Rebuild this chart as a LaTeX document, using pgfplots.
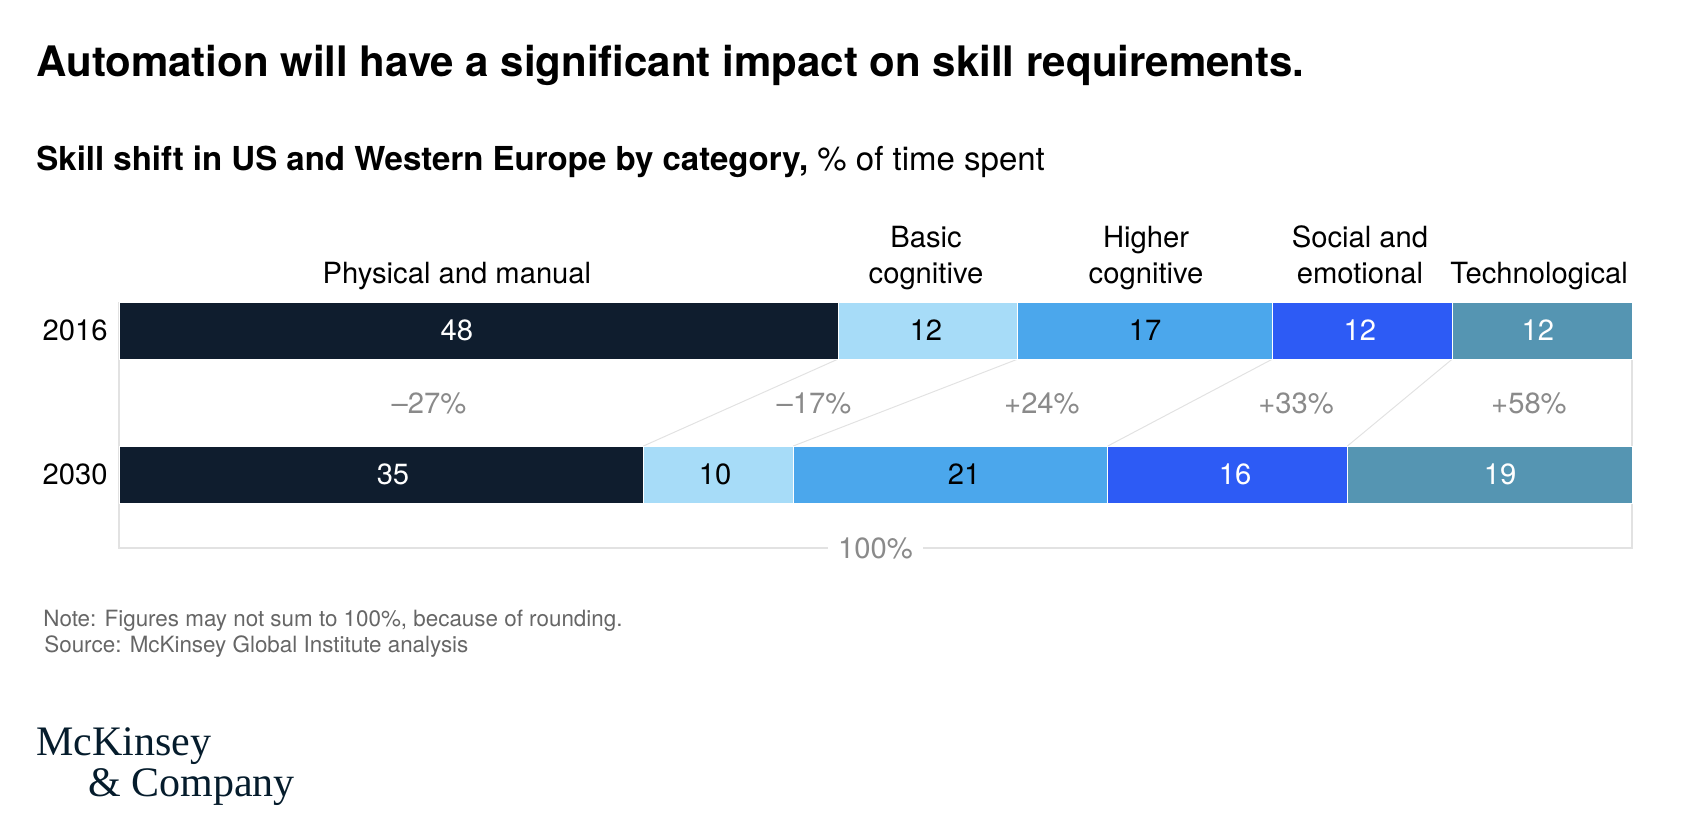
\documentclass[border=0pt]{standalone}
\usepackage{fontspec}
\setmainfont{TeX Gyre Heros}
\newfontfamily\logofont{Liberation Serif}
\usepackage{pgfplots}
\pgfplotsset{compat=1.18}
\definecolor{cPhys}{HTML}{0F1D2E}
\definecolor{cBasic}{HTML}{A7DCF8}
\definecolor{cHigh}{HTML}{4BA7EC}
\definecolor{cSoc}{HTML}{2D5BF5}
\definecolor{cTech}{HTML}{5595B2}
\definecolor{cGrid}{HTML}{E2E2E2}
\definecolor{cPct}{HTML}{8A8A8A}
\definecolor{cNote}{HTML}{666666}
\definecolor{cLogo}{HTML}{051C2C}
\newcommand{\lbl}{\fontsize{14.6}{18}\selectfont}
\pgfplotsset{base/.style={
  scale only axis, width=756.5pt, height=123.12pt,
  xmin=0, xmax=101, ymin=-0.51, ymax=1.2,
  at={(59.5pt,-274pt)}, anchor=south west, clip=false}}
\begin{document}
\begin{tikzpicture}
\path[use as bounding box] (0,0) rectangle (846pt,-418pt);
% background: frame, connectors, change labels
\begin{axis}[base, hide axis]
\addplot[cGrid, line width=0.6pt] coordinates {(0,1.2) (0,-0.51) (101,-0.51) (101,1.2)};
\addplot[cGrid, line width=0.5pt] coordinates {(48,0.802) (35,0.198)};
\addplot[cGrid, line width=0.5pt] coordinates {(60,0.802) (45,0.198)};
\addplot[cGrid, line width=0.5pt] coordinates {(77,0.802) (66,0.198)};
\addplot[cGrid, line width=0.5pt] coordinates {(89,0.802) (82,0.198)};
\addplot[draw=none, nodes near coords, point meta=explicit symbolic,
  every node near coord/.style={anchor=center, font=\lbl, text=cPct}]
  coordinates {(20.69,0.4965)[\textendash27\%] (46.39,0.4965)[\textendash17\%]
  (61.61,0.4965)[+24\%] (78.57,0.4965)[+33\%] (94.12,0.4965)[+58\%]};
\node[fill=white, text=cPct, font=\lbl, inner xsep=5pt] at (axis cs:50.5,-0.51) {100\%};
\end{axis}
% bars
\begin{axis}[base, xbar stacked, bar width=28.5pt,
  axis line style={draw=none}, major tick style={draw=none},
  xtick=\empty, ytick={0,1}, yticklabels={2030,2016},
  yticklabel style={font=\lbl, inner sep=0pt, xshift=-5.5pt}]
\addplot[fill=cPhys, draw=white, line width=0.4pt] coordinates {(48,1) (35,0)};
\addplot[fill=cBasic, draw=white, line width=0.4pt] coordinates {(12,1) (10,0)};
\addplot[fill=cHigh, draw=white, line width=0.4pt] coordinates {(17,1) (21,0)};
\addplot[fill=cSoc, draw=white, line width=0.4pt] coordinates {(12,1) (16,0)};
\addplot[fill=cTech, draw=white, line width=0.4pt] coordinates {(12,1) (19,0)};
\end{axis}
% value and category labels
\begin{axis}[base, hide axis]
\addplot[draw=none, nodes near coords, point meta=explicit symbolic,
  every node near coord/.style={anchor=center, font=\lbl, text=white}]
  coordinates {(22.56,1)[48] (82.84,1)[12] (94.72,1)[12] (18.29,0)[35] (74.50,0)[16] (92.19,0)[19]};
\addplot[draw=none, nodes near coords, point meta=explicit symbolic,
  every node near coord/.style={anchor=center, font=\lbl, text=black}]
  coordinates {(53.87,1)[12] (68.49,1)[17] (39.79,0)[10] (56.41,0)[21]};
\node[anchor=base, font=\lbl, inner sep=0pt] at (axis cs:22.56,1.33) {Physical and manual};
\node[anchor=base, font=\lbl, inner sep=0pt] at (axis cs:53.87,1.58) {Basic};
\node[anchor=base, font=\lbl, inner sep=0pt] at (axis cs:53.87,1.33) {cognitive};
\node[anchor=base, font=\lbl, inner sep=0pt] at (axis cs:68.56,1.58) {Higher};
\node[anchor=base, font=\lbl, inner sep=0pt] at (axis cs:68.56,1.33) {cognitive};
\node[anchor=base, font=\lbl, inner sep=0pt] at (axis cs:82.84,1.58) {Social and};
\node[anchor=base, font=\lbl, inner sep=0pt] at (axis cs:82.84,1.33) {emotional};
\node[anchor=base, font=\lbl, inner sep=0pt] at (axis cs:94.80,1.33) {Technological};
\end{axis}
\begin{scope}[x=0.5pt, y=-0.5pt]
\node[anchor=base west, inner sep=0pt, font=\fontsize{21}{25}\selectfont\bfseries] at (36,76)
  {Automation will have a significant impact on skill requirements.};
\node[anchor=base west, inner sep=0pt, font=\fontsize{16.5}{20}\selectfont] at (36,170)
  {\textbf{Skill shift in US and Western Europe by category,} \% of time spent};
\node[anchor=base west, inner sep=0pt, text=cNote, font=\fontsize{11.2}{14}\selectfont] at (43,626)
  {Note: Figures may not sum to 100\%, because of rounding.};
\node[anchor=base west, inner sep=0pt, text=cNote, font=\fontsize{11.2}{14}\selectfont] at (44,652)
  {Source: McKinsey Global Institute analysis};
\node[anchor=base west, inner sep=0pt, text=cLogo, font=\logofont\fontsize{21}{25}\selectfont] at (36,755) {McKinsey};
\node[anchor=base west, inner sep=0pt, text=cLogo, font=\logofont\fontsize{21}{25}\selectfont] at (88,796) {\& Company};
\end{scope}
\end{tikzpicture}
\end{document}
